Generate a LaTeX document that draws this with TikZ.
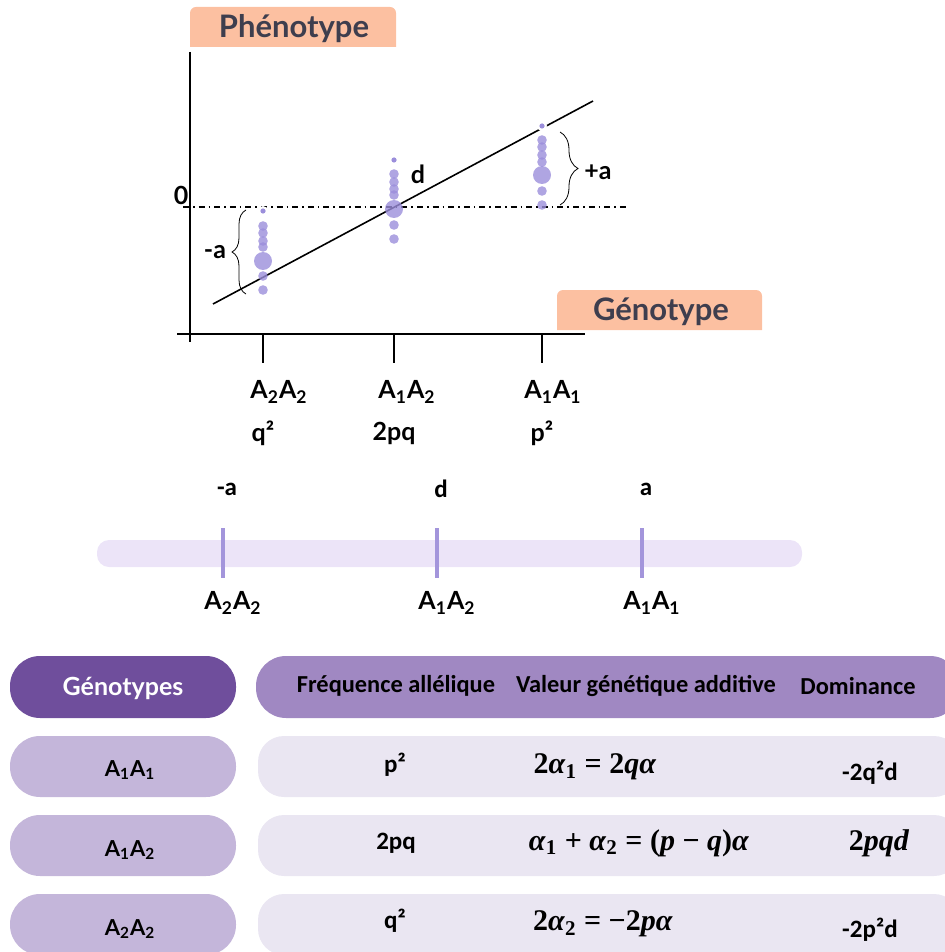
\documentclass[tikz,border=0pt]{standalone}
\usepackage{fontspec}
\setmainfont{Lato}
\newfontfamily\tabfont{Carlito}
\newfontfamily\eqfont{Liberation Serif}
\usetikzlibrary{decorations.pathreplacing}

\definecolor{peach}{HTML}{FCC0A1}
\definecolor{boxtext}{HTML}{3E3E4E}
\definecolor{dotc}{HTML}{9B8EDB}
\definecolor{barc}{HTML}{ECE4F8}
\definecolor{barmark}{HTML}{A395DB}
\definecolor{headdark}{HTML}{6F4E9C}
\definecolor{headlight}{HTML}{A088C2}
\definecolor{rowdark}{HTML}{C4B6DA}
\definecolor{rowlight}{HTML}{EAE6F2}

\newcommand\var[1]{\textit{#1}}
\newcommand\op[1]{\hspace{0.25em}#1\hspace{0.25em}}

\tikzset{
  lbl/.style={font=\bfseries\fontsize{12.5}{14}\selectfont},
  boxlbl/.style={font=\bfseries\fontsize{15.5}{17}\selectfont, text=boxtext},
  tablbl/.style={font=\tabfont\bfseries\fontsize{12.2}{14}\selectfont},
  cellbl/.style={font=\tabfont\bfseries\fontsize{12.5}{14}\selectfont},
  genlbl/.style={font=\bfseries\fontsize{11}{13}\selectfont},
  formula/.style={font=\eqfont\bfseries\fontsize{15}{17}\selectfont},
  dot/.style={fill=dotc, fill opacity=0.8, draw=none},
  pill/.style={rounded corners=15pt, draw=none},
}

\begin{document}
\begin{tikzpicture}[x=0.5pt, y=-0.5pt]
\useasboundingbox (0,0) rectangle (945,952);
\clip (0,0) rectangle (945,952);
% unit: 1 = one pixel of the 945x952 frame, y grows downwards

% --- phenotype / genotype plot
\fill[peach] (190,47) [rounded corners=3pt] -- (190,7) -- (396,7) [sharp corners] -- (396,47) -- cycle;
\node[boxlbl] (phen) at (294,29) {Phénotype};
\fill[peach] (557,330) [rounded corners=3pt] -- (557,290) -- (762,290) [sharp corners] -- (762,330) -- cycle;
\node[boxlbl] (gen) at (661,312) {Génotype};

\draw[thick] (190,52) -- (190,342);
\draw[thick] (177,334) -- (585,334);
\foreach \x/\c/\g/\f in {263/279/{A\textsubscript{2}A\textsubscript{2}}/q², 394/407/{A\textsubscript{1}A\textsubscript{2}}/2pq, 542/553/{A\textsubscript{1}A\textsubscript{1}}/p²} {
  \draw[thick] (\x,334) -- (\x,363);
  \node[lbl] at (\c,392) {\g};
  \node[lbl] at (\x,433) {\f};
}

\draw[thick, dash dot] (183,207) -- (628,207);
\draw[thick] (213,304) -- (593,101);

% point clusters
\foreach \x/\t/\b/\ys in {263/211/261/{226,233,241,247,276,290}, 394/160/209/{174,182,189,195,225,239}, 542/126/175/{140,147,155,162,191,205}} {
  \foreach \y in \ys {\fill[dot] (\x,\y) circle[radius=4.8];}
  \fill[dot] (\x,\b) circle[radius=9];
  \fill[white] (\x,\t) circle[radius=5];
  \fill[dotc] (\x,\t) circle[radius=2.6];
}

\draw[decorate, decoration={brace, amplitude=9pt}] (560,132) -- (560,205);
\draw[decorate, decoration={brace, amplitude=7pt}] (246,294) -- (246,210);
\node[lbl] (zero) at (181,195) {0};
\node[lbl] (dom) at (418,174) {d};
\node[lbl] (plusa) at (598,172) {+a};
\node[lbl] (minusa) at (215,252) {-a};

% --- scale bar
\fill[barc, rounded corners=6pt] (97,540) rectangle (802,567);
\foreach \x/\v/\g in {223/-a/{A\textsubscript{2}A\textsubscript{2}}, 437/d/{A\textsubscript{1}A\textsubscript{2}}, 642/a/{A\textsubscript{1}A\textsubscript{1}}} {
  \draw[barmark, line width=1.6pt] (\x,528) -- (\x,578);
  \node[cellbl] at (\x+4,489) {\v};
  \node[lbl] at (\x+10,603) {\g};
}

% --- table
\fill[headdark, pill] (10,656) rectangle (236,718);
\node[font=\bfseries\fontsize{12.5}{14}\selectfont, text=white] (hgeno) at (123,688) {Génotypes};
\fill[headlight, pill] (256,656) rectangle (960,718);
\node[tablbl] (hfreq) at (396,686) {Fréquence allélique};
\node[tablbl] (hval) at (646,686) {Valeur génétique additive};
\node[tablbl] (hdom) at (858,686) {Dominance};

\foreach \y in {736,815,894} {
  \fill[rowdark, pill] (10,\y) rectangle (236,\y+61);
  \fill[rowlight, rounded corners=13pt] (258,\y) rectangle (960,\y+61);
}

\node[genlbl] (g11) at (130,770) {A\textsubscript{1}A\textsubscript{1}};
\node[genlbl] (g12) at (130,850) {A\textsubscript{1}A\textsubscript{2}};
\node[genlbl] (g22) at (130,929) {A\textsubscript{2}A\textsubscript{2}};

\node[cellbl] (f11) at (395,765) {p²};
\node[cellbl] (f12) at (396,843) {2pq};
\node[cellbl] (f22) at (395,921) {q²};

\node[formula] (v11) at (595,767) {2\var{α}\textsubscript{1}\op{=}2\var{qα}};
\node[formula] (v12) at (639,843) {\var{α}\textsubscript{1}\op{+}\var{α}\textsubscript{2}\op{=}(\var{p}\op{−}\var{q})\var{α}};
\node[formula] (v22) at (603,924) {2\var{α}\textsubscript{2}\op{=}−2\var{pα}};

\node[cellbl] (d11) at (870,773) {-2q²d};
\node[formula] (d12) at (879,843) {2\var{pqd}};
\node[cellbl] (d22) at (870,930) {-2p²d};
\end{tikzpicture}
\end{document}
